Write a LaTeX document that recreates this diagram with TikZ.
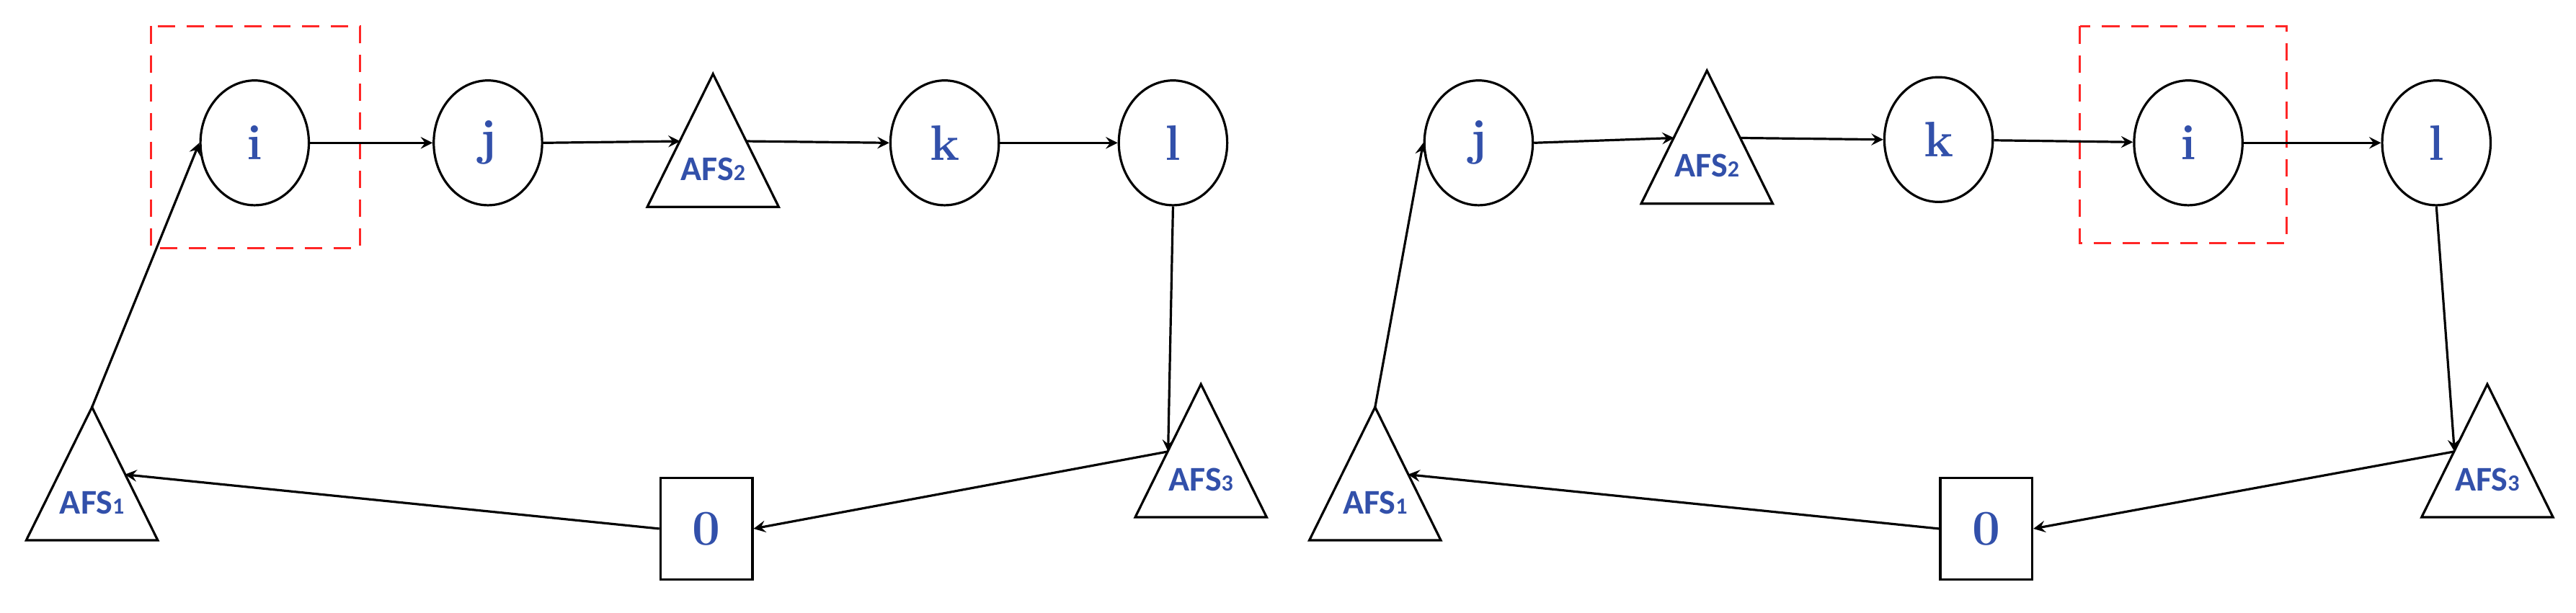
\documentclass[tikz,border=0pt]{standalone}
\usepackage{fontspec}
\newfontfamily\afsfont{Carlito}
\usetikzlibrary{shapes.geometric}
\definecolor{lblue}{RGB}{50,80,170}
\tikzstyle{cust}=[ellipse,draw,thick,minimum width=1.32cm,minimum height=1.52cm,inner sep=0pt,font=\LARGE\bfseries,text=lblue]
\tikzstyle{afslbl}=[inner sep=0pt,font=\afsfont\bfseries\large,text=lblue]
\tikzstyle{depot}=[rectangle,draw,thick,minimum width=1.12cm,minimum height=1.24cm,inner sep=0pt,font=\LARGE\bfseries,text=lblue]
\tikzstyle{hl}=[draw=red!85,dashed,thick,dash pattern=on 6pt off 4pt]
\tikzstyle{arc}=[->,thick,>=stealth]
% station triangle: name, apex x, apex y, label
\newcommand{\afstri}[4]{%
    \draw[thick] (#2,#3) -- ++(-40,81) -- ++(80,0) -- cycle;
    \node[afslbl] (#1) at (#2,#3+58) {#4};
    \coordinate (#1a) at (#2,#3);
    \coordinate (#1l) at (#2-20,#3+41);
    \coordinate (#1r) at (#2+20,#3+41);}

\begin{document}
\begin{tikzpicture}[x=0.02cm,y=-0.02cm]
    \useasboundingbox (0,0) rectangle (1568,373);
    % left route
    \draw[hl] (92,16) rectangle (219,151);
    \node[cust] (i1) at (155,87) {i};
    \node[cust] (j1) at (297,87) {j};
    \afstri{s21}{434}{45}{AFS{\footnotesize 2}}
    \node[cust] (k1) at (575,87) {k};
    \node[cust] (l1) at (714,87) {l};
    \afstri{s31}{731}{234}{AFS{\footnotesize 3}}
    \node[depot] (o1) at (430,322) {0};
    \afstri{s11}{56}{248}{AFS{\footnotesize 1}}
    \draw[arc] (s11a) -- (i1.west);
    \draw[arc] (i1) -- (j1);
    \draw[arc] (j1.east) -- (s21l);
    \draw[arc] (s21r) -- (k1.west);
    \draw[arc] (k1) -- (l1);
    \draw[arc] (l1.south) -- (s31l);
    \draw[arc] (s31l) -- (o1.east);
    \draw[arc] (o1.west) -- (s11r);
    % right route
    \draw[hl] (1266,16) rectangle (1392,148);
    \node[cust] (j2) at (900,87) {j};
    \afstri{s22}{1039}{43}{AFS{\footnotesize 2}}
    \node[cust] (k2) at (1180,85) {k};
    \node[cust] (i2) at (1332,87) {i};
    \node[cust] (l2) at (1483,87) {l};
    \afstri{s32}{1514}{234}{AFS{\footnotesize 3}}
    \node[depot] (o2) at (1209,322) {0};
    \afstri{s12}{837}{248}{AFS{\footnotesize 1}}
    \draw[arc] (s12a) -- (j2.west);
    \draw[arc] (j2.east) -- (s22l);
    \draw[arc] (s22r) -- (k2.west);
    \draw[arc] (k2) -- (i2);
    \draw[arc] (i2) -- (l2);
    \draw[arc] (l2.south) -- (s32l);
    \draw[arc] (s32l) -- (o2.east);
    \draw[arc] (o2.west) -- (s12r);
\end{tikzpicture}
\end{document}
